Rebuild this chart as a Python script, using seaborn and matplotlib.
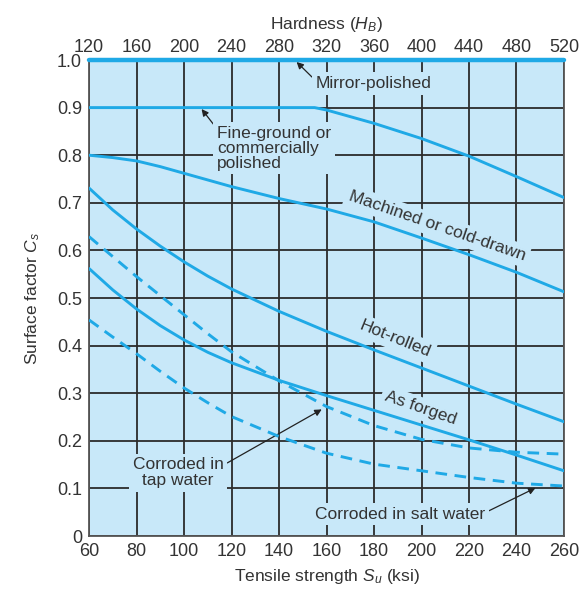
import numpy as np
import pandas as pd
import matplotlib
matplotlib.use("Agg")
import matplotlib.pyplot as plt
import seaborn as sns

# Tensile strength (ksi): finer steps where the curves bend most
su = [60, 70, 80, 90, 100, 110, 120, 140, 160, 180, 200, 220, 240, 260]

mirror_su = [60, 260]
mirror_cs = [1.0, 1.0]

fine_su = [60, 155, 160, 180, 200, 220, 240, 260]
fine_cs = [0.90, 0.90, 0.895, 0.867, 0.835, 0.798, 0.755, 0.711]

machined_cs = [0.800, 0.795, 0.788, 0.776, 0.762, 0.748, 0.734, 0.709, 0.687,
               0.660, 0.626, 0.591, 0.554, 0.513]
hot_rolled_cs = [0.731, 0.685, 0.645, 0.609, 0.576, 0.546, 0.519, 0.472, 0.430,
                 0.391, 0.353, 0.315, 0.277, 0.240]
as_forged_cs = [0.562, 0.517, 0.477, 0.442, 0.412, 0.386, 0.364, 0.327, 0.295,
                0.264, 0.233, 0.202, 0.170, 0.137]
tap_water_cs = [0.629, 0.587, 0.545, 0.505, 0.465, 0.425, 0.387, 0.326, 0.272,
                0.232, 0.203, 0.185, 0.176, 0.172]
salt_water_cs = [0.454, 0.418, 0.383, 0.346, 0.311, 0.280, 0.251, 0.209, 0.174,
                 0.151, 0.137, 0.123, 0.111, 0.105]

x_ticks = [60, 80, 100, 120, 140, 160, 180, 200, 220, 240, 260]
hb_ticks = [120, 160, 200, 240, 280, 320, 360, 400, 440, 480, 520]
y_ticks = [0, 0.1, 0.2, 0.3, 0.4, 0.5, 0.6, 0.7, 0.8, 0.9, 1.0]
y_ticklabels = ["0", "0.1", "0.2", "0.3", "0.4", "0.5", "0.6", "0.7", "0.8", "0.9", "1.0"]

sns.set_style("ticks")
plt.rcParams["font.family"] = ["Liberation Sans", "DejaVu Sans"]
plt.rcParams["mathtext.fontset"] = "custom"
plt.rcParams["mathtext.it"] = "Liberation Sans:italic"
plt.rcParams["mathtext.rm"] = "Liberation Sans"

BG = "#c8e8f9"
CURVE = "#1fa9e6"
INK = "#333333"
GRID = "#2b2b2b"
FS = 12.5
TICK_FS = 13

fig = plt.figure(figsize=(5.83, 5.90), dpi=100)
ax = fig.add_axes([0.1527, 0.0915, 0.8147, 0.8068])
ax.set_facecolor(BG)

mirror = pd.DataFrame({"su": mirror_su, "cs": mirror_cs})
solid = pd.concat([
    pd.DataFrame({"su": fine_su, "cs": fine_cs, "finish": "Fine-ground"}),
    pd.DataFrame({"su": su, "cs": machined_cs, "finish": "Machined"}),
    pd.DataFrame({"su": su, "cs": hot_rolled_cs, "finish": "Hot-rolled"}),
    pd.DataFrame({"su": su, "cs": as_forged_cs, "finish": "As forged"}),
], ignore_index=True)
dashed = pd.concat([
    pd.DataFrame({"su": su, "cs": tap_water_cs, "finish": "Tap water"}),
    pd.DataFrame({"su": su, "cs": salt_water_cs, "finish": "Salt water"}),
], ignore_index=True)

sns.lineplot(data=mirror, x="su", y="cs", ax=ax, color=CURVE, lw=3.2,
             legend=False, zorder=5, clip_on=False)
sns.lineplot(data=solid, x="su", y="cs", units="finish", estimator=None, ax=ax,
             color=CURVE, lw=2.1, legend=False, zorder=4, sort=False)
sns.lineplot(data=dashed, x="su", y="cs", units="finish", estimator=None, ax=ax,
             color=CURVE, lw=2.1, legend=False, zorder=4, sort=False)
for line in ax.lines[-2:]:
    line.set_dashes((4.0, 2.6))
for line in ax.lines:
    line.set_solid_joinstyle("round")
    line.set_dash_joinstyle("round")

ax.set_xlim(60, 260)
ax.set_ylim(0, 1.0)
ax.set_xticks(x_ticks)
ax.set_yticks(y_ticks)
ax.set_yticklabels(y_ticklabels)
ax.grid(True, color=GRID, lw=1.3)
ax.set_axisbelow(True)
ax.tick_params(axis="x", length=0, pad=5, labelsize=TICK_FS, colors=INK)
ax.tick_params(axis="y", length=0, pad=5, labelsize=TICK_FS, colors=INK)
for side in ["left", "bottom", "right"]:
    ax.spines[side].set_color("#555555")
    ax.spines[side].set_linewidth(1.3)
ax.spines["top"].set_visible(False)

ax.set_xlabel("Tensile strength $S_u$ (ksi)", fontsize=FS, color=INK)
ax.xaxis.set_label_coords(0.5, -0.0855)
ax.xaxis.label.set_va("center")
ax.set_ylabel("Surface factor $C_s$", fontsize=FS, color=INK)
ax.yaxis.set_label_coords(-0.118, 0.5)
ax.yaxis.label.set_va("center")

top = ax.secondary_xaxis("top", functions=(lambda s: 2 * s, lambda h: h / 2))
top.set_xticks(hb_ticks)
top.tick_params(length=0, pad=3, labelsize=TICK_FS, colors=INK)
top.spines["top"].set_visible(False)
top.set_xlabel("Hardness ($H_B$)", fontsize=FS, color=INK, labelpad=7)

box = dict(boxstyle="square,pad=0.22", fc=BG, ec="none")
arrow = dict(arrowstyle="-|>", color="#222222", lw=0.9, mutation_scale=10,
             shrinkA=0, shrinkB=0)
tkw = dict(fontsize=FS, color=INK, bbox=box, zorder=3)

ax.annotate("Mirror-polished", xy=(147.4, 0.996), xytext=(155.5, 0.95),
            ha="left", va="center", arrowprops=dict(arrow, relpos=(0.0, 0.7)), **tkw)
ax.annotate("Fine-ground or\ncommercially\npolished", xy=(107.4, 0.897),
            xytext=(114.0, 0.815), ha="left", va="center", linespacing=1.0,
            arrowprops=dict(arrow, relpos=(0.0, 0.92)), **tkw)
ax.text(206.5, 0.651, "Machined or cold-drawn", ha="center", va="center",
        rotation=-19, rotation_mode="anchor", **tkw)
ax.text(189, 0.414, "Hot-rolled", ha="center", va="center",
        rotation=-22, rotation_mode="anchor", **tkw)
ax.text(199.5, 0.268, "As forged", ha="center", va="center",
        rotation=-19, rotation_mode="anchor", **tkw)
ax.annotate("Corroded in\ntap water", xy=(158, 0.266), xytext=(97.5, 0.133),
            ha="center", va="center", linespacing=1.05,
            arrowprops=dict(arrow, relpos=(1.0, 0.75)), **tkw)
ax.annotate("Corroded in salt water", xy=(248, 0.101), xytext=(191, 0.046),
            ha="center", va="center",
            arrowprops=dict(arrow, relpos=(1.0, 0.6)), **tkw)

fig.savefig("out.png", dpi=100, facecolor="white")
